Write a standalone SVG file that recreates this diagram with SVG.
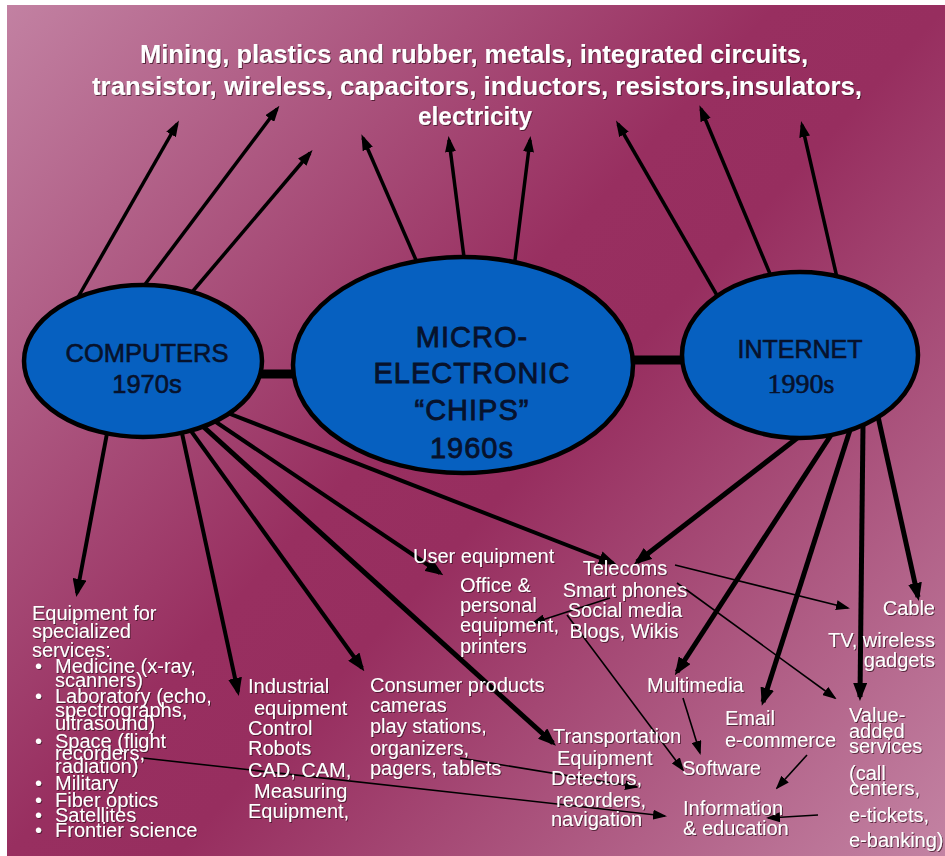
<svg xmlns="http://www.w3.org/2000/svg" width="945" height="856" viewBox="0 0 945 856">
  <defs>
    <style>
      .lbl { font-family: "Liberation Sans", Arial, sans-serif; font-size: 20px; fill: #ffffff; filter: url(#shadow); }
      .list { font-family: "Liberation Sans", Arial, sans-serif; font-size: 20px; fill: #ffffff; filter: url(#shadow); }
      .top { font-family: "Liberation Sans Narrow", "Liberation Sans", Arial, sans-serif; font-size: 25px; font-weight: bold; fill: #ffffff; filter: url(#shadow); }
      .hub { fill: #0660c0; stroke: #000000; stroke-width: 4.5; }
      .hubtxt { font-family: "Liberation Sans", Arial, sans-serif; fill: #06122c; stroke: #06122c; stroke-width: 0.6; text-anchor: middle; }
      .thick { stroke: #000000; stroke-width: 4; fill: none; marker-end: url(#headL); }
      .mid { stroke: #000000; stroke-width: 3.5; fill: none; marker-end: url(#headM); }
      .thin { stroke: #000000; stroke-width: 1.6; fill: none; marker-end: url(#headS); }
      .bar { stroke: #000000; stroke-width: 9; }
    </style>
    <linearGradient id="bg" gradientUnits="userSpaceOnUse" x1="7" y1="5" x2="945" y2="856">
      <stop offset="0" stop-color="#c281a2"/>
      <stop offset="0.45" stop-color="#982f60"/>
      <stop offset="0.55" stop-color="#972e5f"/>
      <stop offset="1" stop-color="#c383a3"/>
    </linearGradient>
    <filter id="shadow" x="-5%" y="-20%" width="110%" height="140%">
      <feDropShadow dx="1" dy="1" stdDeviation="0.5" flood-color="#3b0d24" flood-opacity="0.75"/>
    </filter>
    <marker id="headL" markerUnits="userSpaceOnUse" markerWidth="18" markerHeight="14" refX="14" refY="7" orient="auto">
      <path d="M0,0 L18,7 L0,14 z" fill="#000000"/>
    </marker>
    <marker id="headM" markerUnits="userSpaceOnUse" markerWidth="16" markerHeight="11" refX="12" refY="5.5" orient="auto">
      <path d="M0,0 L16,5.5 L0,11 z" fill="#000000"/>
    </marker>
    <marker id="headS" markerUnits="userSpaceOnUse" markerWidth="14" markerHeight="10" refX="12" refY="5" orient="auto">
      <path d="M0,0 L14,5 L0,10 z" fill="#000000"/>
    </marker>
  </defs>

  <!-- page and panel background -->
  <rect x="0" y="0" width="945" height="856" fill="#ffffff"/>
  <rect x="7" y="5" width="938" height="851" fill="url(#bg)"/>

  <!-- connectors -->
  <g id="connectors">
    <!-- links between the three hubs -->
    <line class="bar" x1="255" y1="374" x2="300" y2="374"/>
    <line class="bar" x1="628" y1="360" x2="688" y2="360"/>

    <!-- upward arrows to materials -->
    <line class="mid" x1="73" y1="306" x2="177" y2="124"/>
    <line class="mid" x1="140" y1="291" x2="277" y2="109"/>
    <line class="mid" x1="187" y1="298" x2="310" y2="153"/>
    <line class="mid" x1="419" y1="267" x2="363" y2="138"/>
    <line class="mid" x1="465" y1="265" x2="449" y2="140"/>
    <line class="mid" x1="514" y1="268" x2="530" y2="140"/>
    <line class="mid" x1="722" y1="304" x2="618" y2="124"/>
    <line class="mid" x1="773" y1="281" x2="701" y2="109"/>
    <line class="mid" x1="838" y1="282" x2="802" y2="125"/>

    <!-- arrows from COMPUTERS -->
    <line class="thick" x1="108" y1="428" x2="77" y2="593"/>
    <line class="thick" x1="180" y1="424" x2="238" y2="692"/>
    <line class="thick" x1="186" y1="424" x2="362" y2="668"/>
    <line class="thick" x1="196" y1="420" x2="553" y2="743" style="stroke-width:5"/>
    <line class="thick" x1="210" y1="418" x2="440" y2="573"/>
    <line class="thick" x1="220" y1="410" x2="613" y2="563"/>

    <!-- arrows from INTERNET -->
    <line class="thick" x1="805" y1="432" x2="637" y2="562" style="stroke-width:5"/>
    <line class="thick" x1="833" y1="432" x2="677" y2="672" style="stroke-width:5"/>
    <line class="thick" x1="850" y1="430" x2="763" y2="702" style="stroke-width:5"/>
    <line class="thick" x1="863" y1="425" x2="860" y2="697" style="stroke-width:5"/>
    <line class="thick" x1="877" y1="412" x2="918" y2="597" style="stroke-width:5"/>

    <!-- fine cross links -->
    <line class="thin" x1="675" y1="565" x2="848" y2="608"/>
    <line class="thin" x1="677" y1="583" x2="835" y2="698"/>
    <line class="thin" x1="610" y1="598" x2="533" y2="623"/>
    <line class="thin" x1="567" y1="615" x2="683" y2="770"/>
    <line class="thin" x1="683" y1="698" x2="700" y2="753"/>
    <line class="thin" x1="807" y1="755" x2="777" y2="788"/>
    <line class="thin" x1="818" y1="815" x2="768" y2="818"/>
    <line class="thin" x1="460" y1="758" x2="637" y2="787"/>
    <line class="thin" x1="143" y1="758" x2="665" y2="816"/>
  </g>

  <!-- materials along the top -->
  <g id="materials">
    <text class="top" x="474" y="63" text-anchor="middle" textLength="668" lengthAdjust="spacingAndGlyphs">Mining, plastics and rubber, metals, integrated circuits,</text>
    <text class="top" x="477" y="95" text-anchor="middle" textLength="770" lengthAdjust="spacingAndGlyphs">transistor, wireless, capacitors, inductors, resistors,insulators,</text>
    <text class="top" x="475" y="125" text-anchor="middle" textLength="114" lengthAdjust="spacingAndGlyphs">electricity</text>
  </g>

  <!-- hub: COMPUTERS -->
  <g id="computers">
    <ellipse class="hub" cx="143" cy="361" rx="119" ry="76"/>
    <text class="hubtxt" x="147" y="362" font-size="25.5">COMPUTERS</text>
    <text class="hubtxt" x="147" y="393" font-size="25.5">1970s</text>
  </g>

  <!-- hub: MICRO-ELECTRONIC CHIPS -->
  <g id="chips">
    <ellipse class="hub" cx="463" cy="365" rx="170" ry="108"/>
    <g class="hubtxt" font-size="29" letter-spacing="1" style="stroke-width:0.8">
      <text x="472" y="347">MICRO-</text>
      <text x="472" y="383">ELECTRONIC</text>
      <text x="472" y="420">“CHIPS”</text>
      <text x="472" y="458">1960s</text>
    </g>
  </g>

  <!-- hub: INTERNET -->
  <g id="internet">
    <ellipse class="hub" cx="800" cy="355" rx="118" ry="83"/>
    <text class="hubtxt" x="800" y="358" font-size="25">INTERNET</text>
    <text class="hubtxt" x="801" y="393" font-size="28" style="font-family:'Liberation Serif', 'Times New Roman', serif">1990s</text>
  </g>

  <!-- specialized services -->
  <g id="specialized">
    <text class="lbl" x="32" y="620">Equipment for</text>
    <text class="lbl" x="32" y="638">specialized</text>
    <text class="lbl" x="32" y="657">services:</text>
    <g class="list">
      <text x="35" y="673">•</text><text x="55" y="673">Medicine (x-ray,</text>
      <text x="55" y="687">scanners)</text>
      <text x="35" y="703">•</text><text x="55" y="703">Laboratory (echo,</text>
      <text x="55" y="717">spectrographs,</text>
      <text x="55" y="730">ultrasound)</text>
      <text x="35" y="748">•</text><text x="55" y="748">Space (flight</text>
      <text x="55" y="760">recorders,</text>
      <text x="55" y="773">radiation)</text>
      <text x="35" y="790">•</text><text x="55" y="790">Military</text>
      <text x="35" y="807">•</text><text x="55" y="807">Fiber optics</text>
      <text x="35" y="822">•</text><text x="55" y="822">Satellites</text>
      <text x="35" y="837">•</text><text x="55" y="837">Frontier science</text>
    </g>
  </g>

  <!-- industrial -->
  <g id="industrial" class="lbl">
    <text x="248" y="693">Industrial</text>
    <text x="254" y="715">equipment</text>
    <text x="248" y="735">Control</text>
    <text x="248" y="755">Robots</text>
    <text x="248" y="777">CAD, CAM,</text>
    <text x="254" y="798">Measuring</text>
    <text x="248" y="818">Equipment,</text>
  </g>

  <!-- consumer products -->
  <g id="consumer" class="lbl">
    <text x="370" y="692">Consumer products</text>
    <text x="370" y="712">cameras</text>
    <text x="370" y="733">play stations,</text>
    <text x="370" y="755">organizers,</text>
    <text x="370" y="775">pagers, tablets</text>
  </g>

  <!-- user equipment -->
  <g id="user-equipment" class="lbl">
    <text x="413" y="563">User equipment</text>
  </g>

  <!-- office equipment -->
  <g id="office" class="lbl">
    <text x="460" y="592">Office &amp;</text>
    <text x="460" y="612">personal</text>
    <text x="460" y="632">equipment,</text>
    <text x="460" y="653">printers</text>
  </g>

  <!-- telecoms -->
  <g id="telecoms" class="lbl" text-anchor="middle">
    <text x="625" y="575">Telecoms</text>
    <text x="625" y="597">Smart phones</text>
    <text x="625" y="617">Social media</text>
    <text x="624" y="638">Blogs, Wikis</text>
  </g>

  <!-- transportation -->
  <g id="transportation" class="lbl">
    <text x="553" y="743">Transportation</text>
    <text x="557" y="765">Equipment</text>
    <text x="551" y="785">Detectors,</text>
    <text x="556" y="807">recorders,</text>
    <text x="551" y="826">navigation</text>
  </g>

  <!-- cable -->
  <g id="cable" class="lbl" text-anchor="end">
    <text x="935" y="615">Cable</text>
    <text x="935" y="647">TV, wireless</text>
    <text x="935" y="667">gadgets</text>
  </g>

  <!-- multimedia -->
  <g id="multimedia" class="lbl">
    <text x="647" y="692">Multimedia</text>
  </g>

  <!-- email -->
  <g id="email" class="lbl">
    <text x="725" y="725">Email</text>
    <text x="725" y="747">e-commerce</text>
  </g>

  <!-- software -->
  <g id="software" class="lbl">
    <text x="682" y="775">Software</text>
  </g>

  <!-- information -->
  <g id="information" class="lbl">
    <text x="683" y="815">Information</text>
    <text x="683" y="835">&amp; education</text>
  </g>

  <!-- value-added services -->
  <g id="value-added" class="lbl">
    <text x="849" y="722">Value-</text>
    <text x="849" y="738">added</text>
    <text x="849" y="753">services</text>
    <text x="849" y="780">(call</text>
    <text x="849" y="795">centers,</text>
    <text x="849" y="822">e-tickets,</text>
    <text x="849" y="847">e-banking)</text>
  </g>
</svg>
